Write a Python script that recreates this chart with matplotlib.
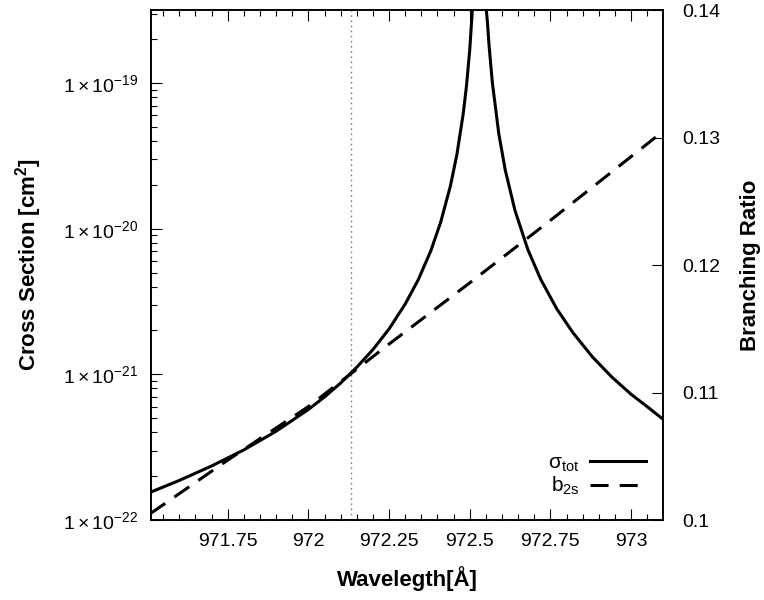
import matplotlib
matplotlib.use('Agg')
import matplotlib.pyplot as plt
from matplotlib.ticker import FixedLocator, LogLocator, NullFormatter, MultipleLocator

plt.rcParams['font.family'] = ['Liberation Sans', 'DejaVu Sans']
plt.rcParams['mathtext.fontset'] = 'custom'
plt.rcParams['mathtext.rm'] = 'Liberation Sans'
plt.rcParams['mathtext.it'] = 'Liberation Sans:italic'
plt.rcParams['mathtext.bf'] = 'Liberation Sans:bold'
plt.rcParams['lines.scale_dashes'] = False

# cross section
wl_sigma = [971.51, 971.60, 971.70, 971.80, 971.90, 972.00, 972.05, 972.10,
            972.15, 972.20, 972.25, 972.30, 972.34, 972.38, 972.41, 972.44,
            972.46, 972.48, 972.49, 972.50, 972.51, 972.52, 972.54, 972.555,
            972.56, 972.57, 972.59, 972.61, 972.64, 972.68, 972.72, 972.77,
            972.82, 972.88, 972.94, 973.00, 973.05, 973.10]
sigma_tot = [1.55e-22, 1.87e-22, 2.35e-22, 3.03e-22, 4.07e-22, 5.74e-22, 7.0e-22, 8.72e-22,
             1.12e-21, 1.48e-21, 2.05e-21, 3.04e-21, 4.44e-21, 7.1e-21, 1.11e-20, 1.96e-20,
             3.21e-20, 6.2e-20, 9.6e-20, 1.69e-19, 3.67e-19, 6.0e-19, 6.0e-19, 2.59e-19,
             1.8e-19, 1.01e-19, 4.5e-20, 2.53e-20, 1.34e-20, 7.2e-21, 4.49e-21, 2.81e-21,
             1.93e-21, 1.32e-21, 9.6e-22, 7.3e-22, 6.0e-22, 4.9e-22]

# branching ratio
wl_b2s = [971.51, 971.75, 972.0, 972.133, 972.25, 972.5, 972.75, 973.0, 973.1]
b_2s = [0.1005, 0.1047, 0.1089, 0.1115, 0.1138, 0.1186, 0.1235, 0.1285, 0.1305]

wl_marker = 972.133

x_ticks = [971.75, 972, 972.25, 972.5, 972.75, 973]
x_labels = ['971.75', '972', '972.25', '972.5', '972.75', '973']
y_ticks = [1e-22, 1e-21, 1e-20, 1e-19]
y_labels = [r'$1\times10^{-22}$', r'$1\times10^{-21}$', r'$1\times10^{-20}$', r'$1\times10^{-19}$']
br_ticks = [0.1, 0.11, 0.12, 0.13, 0.14]
br_labels = ['0.1', '0.11', '0.12', '0.13', '0.14']

fig = plt.figure(figsize=(7.64, 6.0), dpi=100)
ax = fig.add_axes([0.1976, 0.1333, 0.6702, 0.85])
ax2 = ax.twinx()

ax.axvline(wl_marker, color='#808080', lw=1.0, ls=(0, (1.2, 2.5)))
l1, = ax.plot(wl_sigma, sigma_tot, color='black', lw=2.2, label=r'σ$_\mathrm{tot}$')
l2, = ax2.plot(wl_b2s, b_2s, color='black', lw=2.2, dashes=(13, 8), label=r'b$_\mathrm{2s}$')

ax.set_xlim(971.512, 973.099)
ax.set_yscale('log')
ax.set_ylim(1e-22, 3.17e-19)
ax2.set_ylim(0.1, 0.14)

ax.set_xticks(x_ticks)
ax.set_xticklabels(x_labels)
ax.xaxis.set_minor_locator(MultipleLocator(0.05))
ax.yaxis.set_major_locator(FixedLocator(y_ticks))
ax.set_yticklabels(y_labels)
ax.yaxis.set_minor_locator(LogLocator(base=10, subs=range(2, 10)))
ax.yaxis.set_minor_formatter(NullFormatter())
ax2.set_yticks(br_ticks)
ax2.set_yticklabels(br_labels)

ax.tick_params(axis='x', which='both', direction='in', top=True, labelsize=14, pad=9)
ax.tick_params(axis='x', which='major', length=8, width=0.8)
ax.tick_params(axis='x', which='minor', length=4, width=0.8)
ax.tick_params(axis='y', which='both', direction='in', right=False, labelsize=14, pad=9)
ax.tick_params(axis='y', which='major', length=8, width=0.8)
ax.tick_params(axis='y', which='minor', length=4, width=0.8)
ax2.tick_params(axis='y', which='both', direction='in', labelsize=14, pad=14, length=8, width=0.8)

for a in (ax, ax2):
    for s in a.spines.values():
        s.set_linewidth(1.2)

ax.set_xlabel('Wavelegth[Å]', fontsize=16, fontweight='bold', labelpad=12)
ax.set_ylabel(r'Cross Section [cm$^\mathbf{2}$]', fontsize=16, fontweight='bold', labelpad=14)
ax2.set_ylabel('Branching Ratio', fontsize=16, fontweight='bold', labelpad=14)

ax2.legend(handles=[l1, l2], loc='lower right', frameon=False, fontsize=15,
           markerfirst=False, handlelength=2.7, handletextpad=0.5,
           labelspacing=0.05, bbox_to_anchor=(1.004, 0.008))

fig.savefig('out.png', dpi=100)
